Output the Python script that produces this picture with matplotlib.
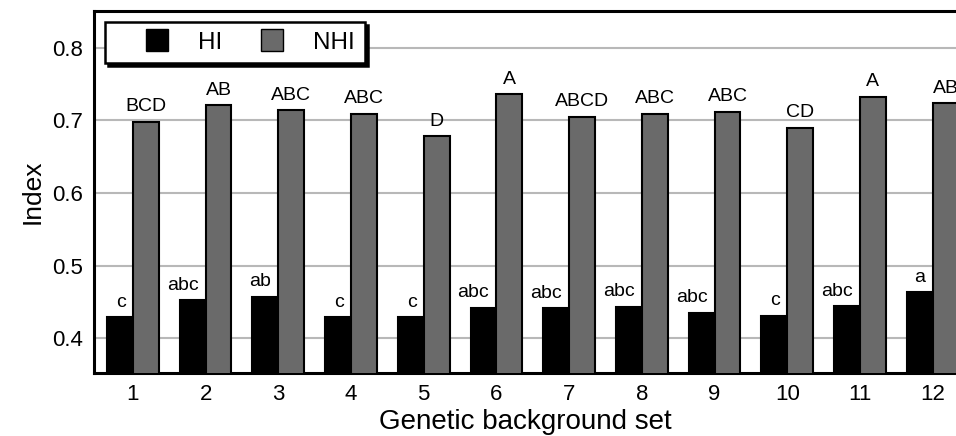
import numpy as np
import matplotlib.pyplot as plt
from matplotlib.lines import Line2D

plt.rcParams['font.family'] = ['Liberation Sans', 'DejaVu Sans']

# data
sets = list(range(1, 13))
hi = [0.429, 0.452, 0.457, 0.429, 0.429, 0.442, 0.441, 0.443, 0.435, 0.431, 0.444, 0.463]
nhi = [0.698, 0.721, 0.714, 0.709, 0.678, 0.736, 0.705, 0.709, 0.712, 0.690, 0.733, 0.724]
hi_letters = ['c', 'abc', 'ab', 'c', 'c', 'abc', 'abc', 'abc', 'abc', 'c', 'abc', 'a']
nhi_letters = ['BCD', 'AB', 'ABC', 'ABC', 'D', 'A', 'ABCD', 'ABC', 'ABC', 'CD', 'A', 'AB']
yticks = [0.4, 0.5, 0.6, 0.7, 0.8]

fig = plt.figure(figsize=(9.56, 4.36), dpi=100)
ax = fig.add_axes([0.0983, 0.1445, 0.9017, 0.8305])

x = np.array(sets)
w = 0.355
ax.bar(x - w / 2, hi, width=w, color='black', edgecolor='black', linewidth=1.5, zorder=3)
ax.bar(x + w / 2, nhi, width=w, color='#6a6a6a', edgecolor='black', linewidth=1.5, zorder=3)

# lowercase letters sit right-aligned just left of the NHI bar
for xi, v, t in zip(x, hi, hi_letters):
    ax.text(xi - 0.1, v + 0.009, t, ha='right', va='bottom', fontsize=14, zorder=4)
for xi, v, t in zip(x, nhi, nhi_letters):
    ax.text(xi + w / 2, v + 0.009, t, ha='center', va='bottom', fontsize=14, zorder=4)

ax.set_xlim(0.465, 12.32)
ax.set_ylim(0.352, 0.851)
ax.set_xticks(x)
ax.set_yticks(yticks)
ax.set_yticklabels(['0.4', '0.5', '0.6', '0.7', '0.8'])
ax.tick_params(axis='both', length=0, labelsize=16, pad=8)
ax.yaxis.grid(True, color='#b8b8b8', linewidth=1.5, zorder=0)
ax.set_axisbelow(True)
for s in ['left', 'top', 'bottom']:
    ax.spines[s].set_linewidth(2.2)
ax.spines['right'].set_visible(False)

ax.set_xlabel('Genetic background set', fontsize=20, labelpad=3)
ax.set_ylabel('Index', fontsize=19, labelpad=5)

handles = [Line2D([], [], linestyle='none', marker='s', markersize=16,
                  markerfacecolor='black', markeredgecolor='black', markeredgewidth=1),
           Line2D([], [], linestyle='none', marker='s', markersize=16,
                  markerfacecolor='#6a6a6a', markeredgecolor='black', markeredgewidth=1)]
leg = ax.legend(handles, ['HI', 'NHI'], loc='upper left', ncol=2, fontsize=17.5,
                frameon=True, fancybox=False, framealpha=1, edgecolor='black',
                borderpad=0.4, borderaxespad=0.45, handlelength=3.48,
                handletextpad=-0.05, columnspacing=0.32,
                shadow={'facecolor': 'black', 'edgecolor': 'black', 'alpha': 1})
leg.get_frame().set_linewidth(1.8)
leg.set_zorder(5)

plt.savefig('out.png', dpi=100)
